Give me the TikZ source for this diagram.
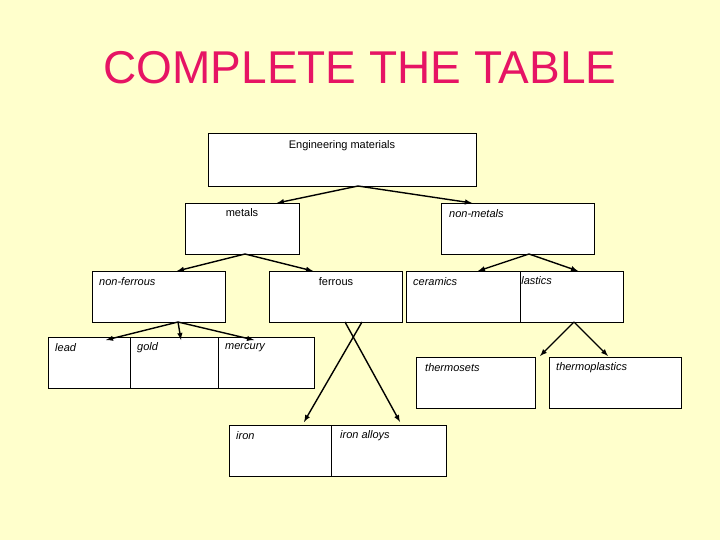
\documentclass[tikz,border=0pt]{standalone}
\usepackage{fontspec}
\setmainfont{Liberation Sans}
\begin{document}
\begin{tikzpicture}[x=1pt,y=-1pt,
  box/.style={draw=black,fill=white,line width=0.8pt},
  lbl/.style={inner sep=0pt,font=\fontsize{11}{12}\selectfont},
  il/.style={lbl,anchor=west,font=\fontsize{11}{12}\selectfont\itshape},
  arr/.style={-latex,line width=1.4pt}]
\definecolor{bg}{RGB}{255,255,204}
\definecolor{tt}{RGB}{230,20,100}
\fill[bg] (0,0) rectangle (720,540);
\useasboundingbox (0,0) rectangle (720,540);
\node[text=tt,font=\fontsize{46}{50}\selectfont] (title) at (360,68) {COMPLETE THE TABLE};
% boxes
\draw[box] (208,133) rectangle (476,186); \coordinate (eng) at (358,186);
\node[lbl] (engt) at (342,146) {Engineering materials};
\draw[box] (185,203) rectangle (299,254); \coordinate (met) at (245,254);
\node[lbl] (mett) at (242,213) {metals};
\draw[box] (441,203) rectangle (594,254); \coordinate (nm) at (529,254);
\node[il] (nmt) at (449,214) {non-metals};
\draw[box] (92,271) rectangle (225,322); \coordinate (nf) at (178,322);
\node[il] (nft) at (99,282) {non-ferrous};
\draw[box] (269,271) rectangle (402,322);
\node[lbl] (fet) at (336,282) {ferrous};
\draw[box] (406,271) rectangle (520,322);
\node[il] (cet) at (413,282) {ceramics};
\draw[box] (520,271) rectangle (623,322); \coordinate (pl) at (574,322);
\begin{scope}
\clip (520.5,260) rectangle (623,330);
\node[il] (plt) at (515,282) {plastics};
\end{scope}
\draw[box] (48,337) rectangle (130,388);
\node[il] (le) at (55,348) {lead};
\draw[box] (130,337) rectangle (218,388);
\node[il] (go) at (137,348) {gold};
\draw[box] (218,337) rectangle (314,388);
\node[il] (me) at (225,348) {mercury};
\draw[box] (416,357) rectangle (535,408);
\node[il] (ts) at (425,368) {thermosets};
\draw[box] (549,357) rectangle (681,408);
\node[il] (tp) at (556,368) {thermoplastics};
\draw[box] (229,425) rectangle (331,476);
\node[il] (ir) at (236,436) {iron};
\draw[box] (331,425) rectangle (446,476);
\node[il] (ia) at (340,436) {iron alloys};
% arrows
\coordinate (a1) at (277,203); \coordinate (a2) at (472,203);
\draw[arr] (eng) -- (a1); \draw[arr] (eng) -- (a2);
\coordinate (b1) at (177,271); \coordinate (b2) at (313,271);
\draw[arr] (met) -- (b1); \draw[arr] (met) -- (b2);
\coordinate (c1) at (106,340); \coordinate (c2) at (181,340); \coordinate (c3) at (254,340);
\draw[arr] (nf) -- (c1); \draw[arr] (nf) -- (c2); \draw[arr] (nf) -- (c3);
\coordinate (d1) at (478,271); \coordinate (d2) at (578,271);
\draw[arr] (nm) -- (d1); \draw[arr] (nm) -- (d2);
\coordinate (e1) at (540,356); \coordinate (e2) at (608,356);
\draw[arr] (pl) -- (e1); \draw[arr] (pl) -- (e2);
\coordinate (f0) at (345,322); \coordinate (f1) at (400,422);
\coordinate (g0) at (362,322); \coordinate (g1) at (304,422);
\draw[arr] (f0) -- (f1); \draw[arr] (g0) -- (g1);
\end{tikzpicture}
\end{document}
